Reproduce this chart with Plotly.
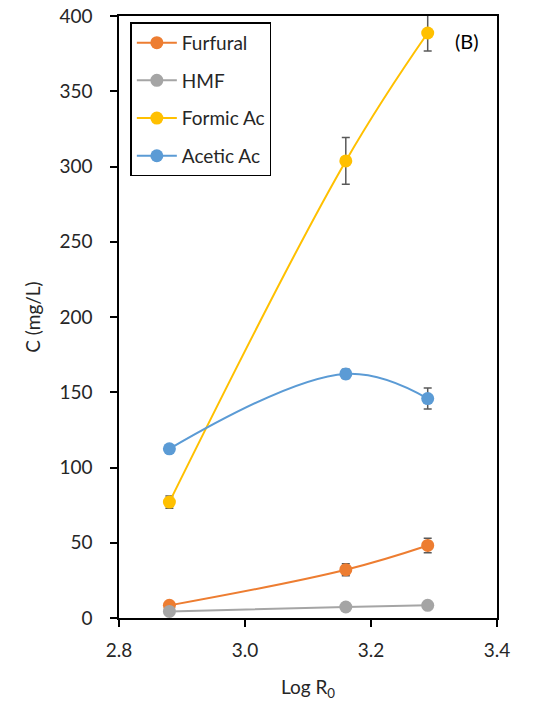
import plotly.graph_objects as go

log_r0 = [2.88, 3.16, 3.29]
series_names = ["Furfural", "HMF", "Formic Ac", "Acetic Ac"]
furfural = [8.4, 32.1, 48.2]
furfural_err = [1.5, 4.0, 4.8]
hmf = [4.4, 7.3, 8.4]
hmf_err = [0.5, 0.8, 0.8]
formic = [77.0, 303.7, 388.7]
formic_err = [4.0, 15.5, 12.0]
acetic = [112.4, 162.2, 145.8]
acetic_err = [1.5, 3.0, 7.0]
colors = ["#ED7D31", "#A5A5A5", "#FFC000", "#5B9BD5"]

values = [furfural, hmf, formic, acetic]
errors = [furfural_err, hmf_err, formic_err, acetic_err]

FONT = "Lato, 'Open Sans', sans-serif"

fig = go.Figure()
for i, (name, y, e, c) in enumerate(zip(series_names, values, errors, colors)):
    fig.add_trace(go.Scatter(
        x=log_r0, y=y, name=name, mode="lines+markers",
        line=dict(color=c, width=2, shape="spline", smoothing=1.1),
        marker=dict(color=c, size=13),
        error_y=dict(type="data", array=e, visible=True, color="#595959",
                     thickness=1.5, width=4),
        legendgroup=f"g{i}",
    ))

fig.update_layout(
    width=537, height=701,
    margin=dict(l=118.5, r=40, t=15.7, b=82.7, autoexpand=False),
    paper_bgcolor="white", plot_bgcolor="white",
    font=dict(family=FONT, size=19, color="#262626"),
    showlegend=True,
    legend=dict(x=0.030, y=0.9895, xanchor="left", yanchor="top",
                bgcolor="white", bordercolor="black", borderwidth=1.5,
                font=dict(size=19, color="#262626"),
                traceorder="grouped", tracegroupgap=10,
                itemwidth=40),
    annotations=[dict(text="(B)", x=0.957, y=0.958, xref="paper", yref="paper",
                      xanchor="right", yanchor="middle", showarrow=False,
                      font=dict(size=20, color="black"))],
)
fig.update_xaxes(range=[2.8, 3.4], tickvals=[2.8, 3.0, 3.2, 3.4],
                 ticktext=["2.8", "3.0", "3.2", "3.4"], automargin=False,
                 showline=True, linecolor="black", linewidth=1.5, mirror=True,
                 ticks="outside", ticklen=7, tickcolor="black", tickwidth=1.5,
                 ticklabelstandoff=7,
                 showgrid=False, zeroline=False,
                 title=dict(text="Log R<sub>0</sub>", standoff=22,
                            font=dict(size=19)))
fig.update_yaxes(range=[0, 400], dtick=50, automargin=False,
                 showline=True, linecolor="black", linewidth=1.5, mirror=True,
                 ticks="outside", ticklen=7, tickcolor="black", tickwidth=1.5,
                 ticklabelstandoff=14,
                 showgrid=False, zeroline=False,
                 title=dict(text="C (mg/L)", standoff=14, font=dict(size=19)))

fig.write_html("out.html", config={"displayModeBar": False},
               post_script="document.body.style.margin='0';")
